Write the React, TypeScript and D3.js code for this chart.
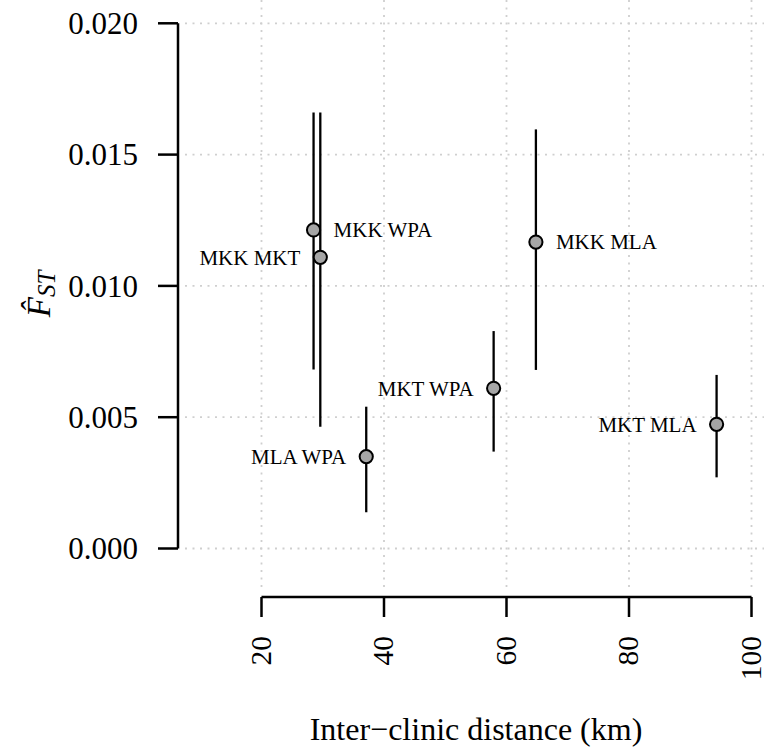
import React from "react";
import * as d3 from "d3";

const pairs = ["MKK WPA", "MKK MKT", "MLA WPA", "MKT WPA", "MKK MLA", "MKT MLA"];
const distance = [28.5, 29.6, 37.1, 57.9, 64.8, 94.3];
const fst = [0.01213, 0.01109, 0.0035, 0.0061, 0.01167, 0.00473];
const lower = [0.00682, 0.00464, 0.00138, 0.00369, 0.0068, 0.00271];
const upper = [0.0166, 0.0166, 0.0054, 0.00828, 0.01596, 0.00661];
const labelSide = ["right", "left", "left", "left", "right", "left"];
const xTicks = [20, 40, 60, 80, 100];
const yTicks = [0, 0.005, 0.01, 0.015, 0.02];

const W = 764;
const H = 748;
const FONT = "'Liberation Serif', 'Times New Roman', serif";

export default function App() {
  const x = d3.scaleLinear().domain([20, 100]).range([261.5, 751.5]);
  const y = d3.scaleLinear().domain([0, 0.02]).range([548.5, 23.3]);
  const fmt = d3.format(".3f");
  const gridColor = "#cfcfcf";

  return (
    <svg
      width={W}
      height={H}
      style={{ position: "absolute", left: 0, top: 0, background: "#fff" }}
      fontFamily={FONT}
    >
      <rect x={0} y={0} width={W} height={H} fill="#fff" />
      {/* grid */}
      {xTicks.map((t) => (
        <line
          key={"gx" + t}
          x1={x(t)}
          x2={x(t)}
          y1={0}
          y2={590}
          stroke={gridColor}
          strokeWidth={1.8}
          strokeDasharray="2 5.5"
        />
      ))}
      {yTicks.map((t) => (
        <line
          key={"gy" + t}
          x1={185}
          x2={W}
          y1={y(t)}
          y2={y(t)}
          stroke={gridColor}
          strokeWidth={1.8}
          strokeDasharray="2 5.5"
        />
      ))}

      {/* y axis */}
      <line x1={178} x2={178} y1={y(0)} y2={y(0.02)} stroke="#000" strokeWidth={2.5} />
      {yTicks.map((t) => (
        <g key={"yt" + t}>
          <line x1={158} x2={178} y1={y(t)} y2={y(t)} stroke="#000" strokeWidth={2.5} />
          <text x={138} y={y(t)} dy="0.35em" textAnchor="end" fontSize={31} fill="#000">
            {fmt(t)}
          </text>
        </g>
      ))}

      {/* x axis */}
      <line x1={x(20)} x2={x(100)} y1={597} y2={597} stroke="#000" strokeWidth={2.5} />
      {xTicks.map((t) => (
        <g key={"xt" + t}>
          <line x1={x(t)} x2={x(t)} y1={597} y2={617} stroke="#000" strokeWidth={2.5} />
          <text
            transform={`translate(${x(t) - 0.5},636) rotate(-90)`}
            dy="0.33em"
            textAnchor="end"
            fontSize={29.5}
            fill="#000"
          >
            {t}
          </text>
        </g>
      ))}

      {/* axis titles */}
      <text x={476} y={740} textAnchor="middle" fontSize={32} fill="#000">
        Inter−clinic distance (km)
      </text>
      <g transform="translate(50,294) rotate(-90)">
        <text textAnchor="middle" fill="#000" fontStyle="italic">
          <tspan fontSize={33}>F̂</tspan>
          <tspan fontSize={25} dy={5}>ST</tspan>
        </text>
      </g>

      {/* error bars and points */}
      {pairs.map((p, i) => (
        <line
          key={"eb" + p}
          x1={x(distance[i])}
          x2={x(distance[i])}
          y1={y(lower[i])}
          y2={y(upper[i])}
          stroke="#000"
          strokeWidth={2.3}
        />
      ))}
      {pairs.map((p, i) => (
        <circle
          key={"pt" + p}
          cx={x(distance[i])}
          cy={y(fst[i])}
          r={6.6}
          fill="#a6a6a6"
          stroke="#000"
          strokeWidth={2}
        />
      ))}
      {pairs.map((p, i) => (
        <text
          key={"lb" + p}
          x={x(distance[i]) + (labelSide[i] === "right" ? 20 : -20)}
          y={y(fst[i])}
          dy="0.35em"
          textAnchor={labelSide[i] === "right" ? "start" : "end"}
          fontSize={21}
          fill="#000"
        >
          {p}
        </text>
      ))}
    </svg>
  );
}
